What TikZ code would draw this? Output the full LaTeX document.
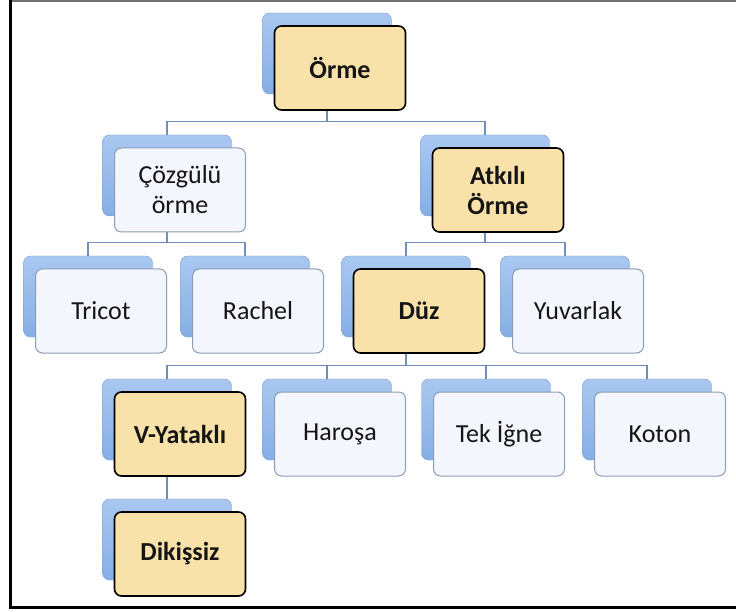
\documentclass[tikz,border=0pt]{standalone}
\usepackage{fontspec}
\setmainfont{Carlito}
\usetikzlibrary{backgrounds,calc}
\definecolor{backc}{HTML}{86AEE6}
\definecolor{backtop}{HTML}{A9C8F0}
\definecolor{plainc}{HTML}{F3F6FC}
\definecolor{plainline}{HTML}{8C9CB6}
\definecolor{keyc}{HTML}{F9E2A9}
\definecolor{linkc}{HTML}{6F8FB8}
\definecolor{ink}{HTML}{151515}
\tikzset{
  card/.style={rectangle, rounded corners=7pt, minimum width=131pt, minimum height=84pt,
    inner sep=2pt, align=center, text=ink, font=\fontsize{26}{30}\selectfont},
  plain/.style={card, fill=plainc, draw=plainline, line width=1pt},
  key/.style={card, fill=keyc, draw=black, line width=1.6pt, font=\fontsize{26}{30}\selectfont\bfseries},
  backcard/.style={rectangle, rounded corners=7pt, minimum width=129pt, minimum height=81pt,
    top color=backtop, bottom color=backc, draw=backc!90!black, line width=0.4pt},
  tree/.style={linkc, line width=1.1pt,
    to path={(\tikztostart) |- ([yshift=13pt]\tikztotarget.north) -| (\tikztotarget.north)}},
}

\begin{document}
\begin{tikzpicture}[x=1pt,y=-1pt]
  \useasboundingbox (0,0) rectangle (736,612);
  % frame
  \draw[black!55, line width=2pt] (10,1) -- (736,1);
  \draw[black, line width=3pt] (10,0) -- (10,607) -- (736,607);
  % cards
  \node[key] (orme) at (340,68) {Örme};
  \node[plain] (cozgu) at (180,190) {Çözgülü\\örme};
  \node[key] (atkili) at (498,190) {Atkılı\\Örme};
  \node[plain] (tricot) at (101,311) {Tricot};
  \node[plain] (rachel) at (258,311) {Rachel};
  \node[key] (duz) at (419,311) {Düz};
  \node[plain] (yuvar) at (578,311) {Yuvarlak};
  \node[key] (vyat) at (180,434) {V-Yataklı};
  \node[plain] (harosa) at (340,434) {Haroşa};
  \node[plain] (tekigne) at (499,434) {Tek İğne};
  \node[plain] (koton) at (660,434) {Koton};
  \node[key] (dikis) at (180,554) {Dikişsiz};
  \begin{pgfonlayer}{background}
    \foreach \n in {orme,cozgu,atkili,tricot,rachel,duz,yuvar,vyat,harosa,tekigne,koton,dikis}
      \node[backcard] (\n-b) at ($(\n)+(-13,-14.5)$) {};
    % links
    \draw[tree] (orme-b.south) to (cozgu-b);
    \draw[tree] (orme-b.south) to (atkili-b);
    \draw[tree] (cozgu-b.south) to (tricot-b);
    \draw[tree] (cozgu-b.south) to (rachel-b);
    \draw[tree] (atkili-b.south) to (duz-b);
    \draw[tree] (atkili-b.south) to (yuvar-b);
    \foreach \c in {vyat,harosa,tekigne,koton}
      \draw[tree] (duz-b.south) to (\c-b);
    \draw[tree] (vyat-b.south) to (dikis-b);
  \end{pgfonlayer}
\end{tikzpicture}
\end{document}
